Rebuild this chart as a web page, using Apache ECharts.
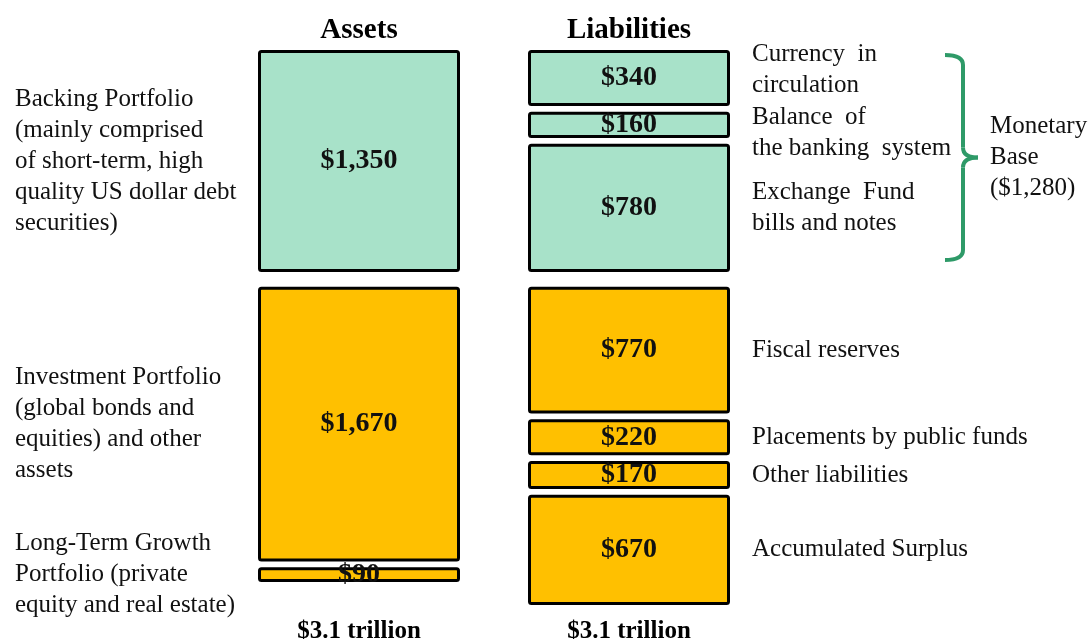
<!DOCTYPE html>
<html>
<head>
<meta charset="utf-8">
<script src="https://cdn.jsdelivr.net/npm/echarts@6/dist/echarts.min.js"></script>
<style>
  html, body { margin: 0; padding: 0; background: #fff; }
  #chart { width: 1089px; height: 639px; }
</style>
</head>
<body>
<div id="chart"></div>
<script>
// balance sheet (HK$ billion)
const columns = ['Assets', 'Liabilities'];

const assetValues = [1350, 1670, 90];
const assetNames = [
  'Backing Portfolio\n(mainly comprised\nof short-term, high\nquality US dollar debt\nsecurities)',
  'Investment Portfolio\n(global bonds and\nequities) and other\nassets',
  'Long-Term Growth\nPortfolio (private\nequity and real estate)'
];
const assetInBase = [true, false, false];

const liabValues = [340, 160, 780, 770, 220, 170, 670];
const liabNames = [
  'Currency  in\ncirculation',
  'Balance  of\nthe banking  system',
  'Exchange  Fund\nbills and notes',
  'Fiscal reserves',
  'Placements by public funds',
  'Other liabilities',
  'Accumulated Surplus'
];
const liabInBase = [true, true, true, false, false, false, false];

const baseLabel = ['Monetary', 'Base'];

// styling
const FONT = '"Liberation Serif", "Times New Roman", serif';
const GREEN = '#A8E2C9';
const ORANGE = '#FFC000';
const BRACE = '#2E9A68';
const GAP = 35;        // space between boxes, in value units
const GROUP_GAP = 90;  // space between green and orange groups

function buildColumn(values, names, inBase) {
  const segs = [];
  values.forEach(function (v, i) {
    if (i > 0) segs.push({ gap: inBase[i] === inBase[i - 1] ? GAP : GROUP_GAP });
    segs.push({ value: v, name: names[i], base: inBase[i], idx: i });
  });
  return segs;
}

const cols = [
  buildColumn(assetValues, assetNames, assetInBase),
  buildColumn(liabValues, liabNames, liabInBase)
];
const totals = [assetValues, liabValues].map(a => a.reduce((s, v) => s + v, 0));
const axisMax = Math.max.apply(null, cols.map(c => c.reduce((s, d) => s + (d.gap || d.value), 0)));
const nSlots = Math.max(cols[0].length, cols[1].length);

const series = [];
// boxes with the amount inside
for (let s = 0; s < nSlots; s++) {
  series.push({
    type: 'bar',
    stack: 'box',
    barWidth: 202,
    barGap: '-100%',
    silent: true,
    label: {
      show: true,
      position: 'inside',
      color: '#111',
      fontFamily: FONT,
      fontWeight: 'bold',
      fontSize: 28,
      formatter: p => '$' + p.value.toLocaleString('en-US')
    },
    data: cols.map(function (c) {
      const d = c[s];
      if (!d) return '-';
      if (d.gap) return { value: d.gap, itemStyle: { color: 'transparent', borderWidth: 0 }, label: { show: false } };
      return {
        value: d.value,
        itemStyle: { color: d.base ? GREEN : ORANGE, borderColor: '#000', borderWidth: 3, borderRadius: 2 }
      };
    })
  });
}
// invisible twin boxes carrying the description text
for (let s = 0; s < nSlots; s++) {
  series.push({
    type: 'bar',
    stack: 'desc',
    barWidth: 202,
    barGap: '-100%',
    silent: true,
    itemStyle: { color: 'transparent', borderWidth: 0 },
    data: cols.map(function (c, ci) {
      const d = c[s];
      if (!d) return '-';
      if (d.gap) return { value: d.gap, label: { show: false } };
      const lbl = {
        show: true,
        formatter: d.name,
        color: '#111',
        fontFamily: FONT,
        fontSize: 25,
        lineHeight: 31,
        align: 'left'
      };
      if (ci === 0) {
        lbl.position = 'left';
        lbl.distance = 243;
      } else {
        lbl.position = 'right';
        lbl.distance = 22;
        if (d.idx === 0) lbl.offset = [0, -8];
        if (d.idx === 1) lbl.offset = [0, 8];
      }
      return { value: d.value, label: lbl };
    })
  });
}

const chart = echarts.init(document.getElementById('chart'));
chart.setOption({
  animation: false,
  backgroundColor: '#fff',
  grid: { left: 224, right: 325, top: 50, bottom: 34, outerBoundsMode: 'none' },
  xAxis: [{
    type: 'category',
    data: columns,
    position: 'top',
    axisLine: { show: false },
    axisTick: { show: false },
    axisLabel: { color: '#000', fontFamily: FONT, fontWeight: 'bold', fontSize: 29, margin: 5 }
  }, {
    type: 'category',
    data: columns,
    position: 'bottom',
    axisLine: { show: false },
    axisTick: { show: false },
    axisLabel: {
      color: '#000', fontFamily: FONT, fontWeight: 'bold', fontSize: 25, margin: 14,
      formatter: (v, i) => '$' + (totals[i] / 1000).toFixed(1) + ' trillion'
    }
  }],
  yAxis: { type: 'value', inverse: true, min: 0, max: axisMax, show: false, splitLine: { show: false } },
  series: series
});

// curly brace around the monetary base components
let baseSum = 0, baseCount = 0;
liabValues.forEach((v, i) => { if (liabInBase[i]) { baseSum += v; baseCount++; } });
const yTop = chart.convertToPixel({ yAxisIndex: 0 }, 0) + 5;
const yBot = chart.convertToPixel({ yAxisIndex: 0 }, baseSum + (baseCount - 1) * GAP) - 12;
const yMid = (yTop + yBot) / 2;
const xLine = chart.convertToPixel({ xAxisIndex: 0 }, 'Liabilities') + 334;
const r = 10;
const braceStyle = { stroke: BRACE, lineWidth: 4, fill: 'none' };
function curve(x1, y1, cx, cy, x2, y2) {
  return { type: 'bezierCurve', silent: true, shape: { x1: x1, y1: y1, cpx1: cx, cpy1: cy, x2: x2, y2: y2 }, style: braceStyle };
}
function seg(x1, y1, x2, y2) {
  return { type: 'line', silent: true, shape: { x1: x1, y1: y1, x2: x2, y2: y2 }, style: braceStyle };
}
chart.setOption({
  graphic: [
    curve(xLine - 18, yTop, xLine, yTop, xLine, yTop + r),
    seg(xLine, yTop + r, xLine, yMid - r),
    curve(xLine, yMid - r, xLine, yMid, xLine + 15, yMid),
    curve(xLine + 15, yMid, xLine, yMid, xLine, yMid + r),
    seg(xLine, yMid + r, xLine, yBot - r),
    curve(xLine, yBot - r, xLine, yBot, xLine - 18, yBot),
    {
      type: 'text',
      x: xLine + 27,
      y: yMid,
      silent: true,
      style: {
        text: baseLabel.concat(['($' + baseSum.toLocaleString('en-US') + ')']).join('\n'),
        fill: '#111',
        font: '25px ' + FONT,
        lineHeight: 31,
        align: 'left',
        verticalAlign: 'middle'
      }
    }
  ]
});
</script>
</body>
</html>
